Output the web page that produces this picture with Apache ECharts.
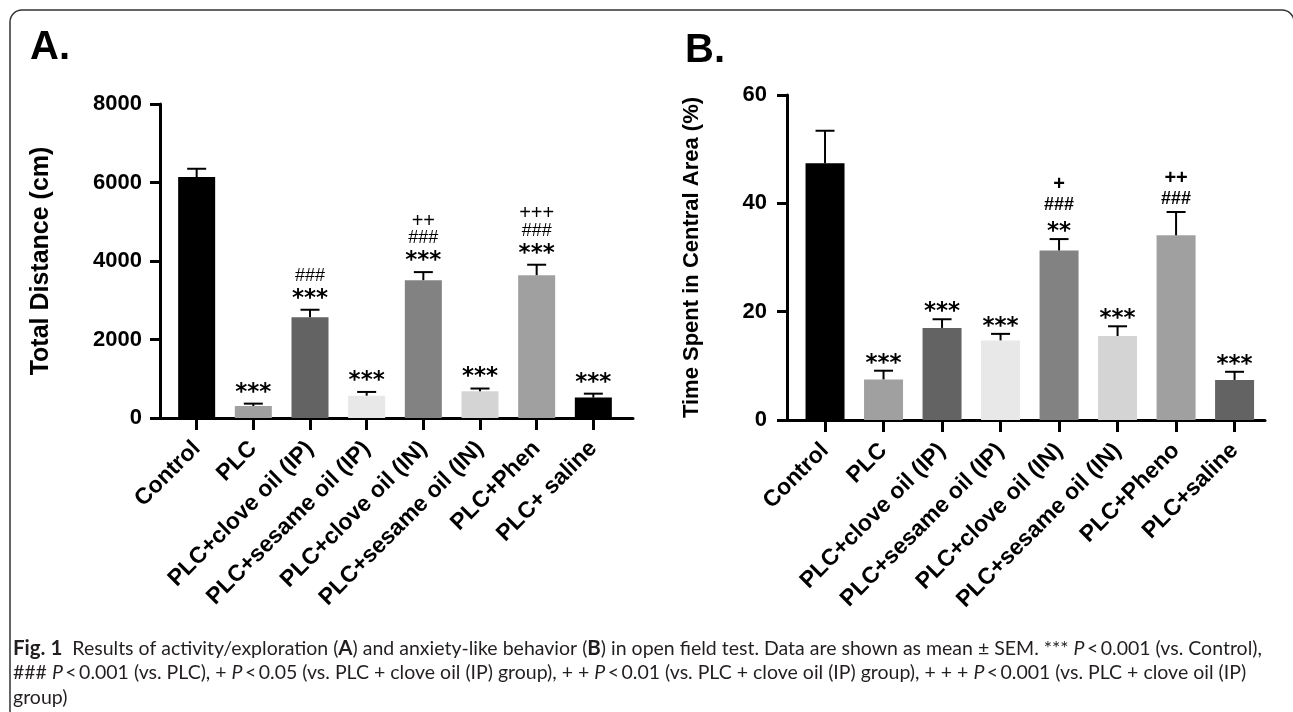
<!DOCTYPE html>
<html>
<head>
<meta charset="utf-8">
<script src="https://cdn.jsdelivr.net/npm/echarts@6/dist/echarts.min.js"></script>
<style>
  html, body { margin: 0; padding: 0; background: #fff; }
  #chart { width: 1293px; height: 712px; }
</style>
</head>
<body>
<div id="chart"></div>
<script>
// ---- Panel A: total distance travelled (cm), mean and SEM ----
const categoriesA = ['Control', 'PLC', 'PLC+clove oil (IP)', 'PLC+sesame oil (IP)',
  'PLC+clove oil (IN)', 'PLC+sesame oil (IN)', 'PLC+Phen', 'PLC+ saline'];
const meanA = [6140, 306, 2568, 569, 3512, 681, 3640, 520];
const semA = [210, 60, 190, 95, 205, 70, 265, 100];
const marksA = [[], ['***'], ['***', '###'], ['***'], ['***', '###', '++'], ['***'], ['***', '###', '+++'], ['***']];
const ticksA = [0, 2000, 4000, 6000, 8000];

// ---- Panel B: time spent in central area (%), mean and SEM ----
const categoriesB = ['Control', 'PLC', 'PLC+clove oil (IP)', 'PLC+sesame oil (IP)',
  'PLC+clove oil (IN)', 'PLC+sesame oil (IN)', 'PLC+Pheno', 'PLC+saline'];
const meanB = [47.4, 7.5, 17.0, 14.7, 31.3, 15.5, 34.1, 7.4];
const semB = [6.0, 1.6, 1.6, 1.2, 2.1, 1.8, 4.3, 1.5];
const marksB = [[], ['***'], ['***'], ['***'], ['**', '###', '+'], ['***'], ['###', '++'], ['***']];
const ticksB = [0, 20, 40, 60];

// bar fills per group
const fillA = ['#000000', '#a0a0a0', '#636363', '#e8e8e8', '#828282', '#d4d4d4', '#a0a0a0', '#000000'];
const fillB = ['#000000', '#a0a0a0', '#636363', '#e8e8e8', '#828282', '#d4d4d4', '#a0a0a0', '#636363'];

// caption lines ({b|..} bold, {i|..} italic)
const P = '{i|P}';
const captionLines = [
  '{b|Fig. 1}  Results of activity/exploration ({b|A}) and anxiety-like behavior ({b|B}) in open field test. Data are shown as mean \u00b1 SEM. *** ' + P + '\u2009<\u20090.001 (vs. Control),',
  '### ' + P + '\u2009<\u20090.001 (vs. PLC), + ' + P + '\u2009<\u20090.05 (vs. PLC + clove oil (IP) group), + + ' + P + '\u2009<\u20090.01 (vs. PLC + clove oil (IP) group), + + + ' + P + '\u2009<\u20090.001 (vs. PLC + clove oil (IP)',
  'group)'
];

const chart = echarts.init(document.getElementById('chart'), null, { renderer: 'canvas' });
const FONT = "'Liberation Sans', Arial, Helvetica, sans-serif";
const CAP_FONT = "Lato, 'Liberation Sans', sans-serif";
const idx = categoriesA.map((_, i) => i);

// caption size chosen so the first line spans the figure width
const measureCtx = document.createElement('canvas').getContext('2d');
const plainFirst = captionLines[0].replace(/\{[bi]\|([^}]*)\}/g, '$1');
measureCtx.font = '100px ' + CAP_FONT;
const capSize = Math.min(20, 1246 / measureCtx.measureText(plainFirst).width * 100);

function xAxisFor(gridIndex, cats, min, max) {
  return {
    type: 'value', gridIndex, min, max,
    axisLine: { show: true, onZero: false, lineStyle: { color: '#000', width: 3 } },
    axisTick: { show: true, customValues: idx, length: 12, lineStyle: { color: '#000', width: 3 } },
    axisLabel: {
      customValues: idx, rotate: 45, margin: 27,
      formatter: v => cats[Math.round(v)] || '',
      color: '#000', fontFamily: FONT, fontWeight: 'bold', fontSize: 23
    },
    splitLine: { show: false }
  };
}
function yAxisFor(gridIndex, ticks, name, nameGap, margin, nameSize) {
  return {
    type: 'value', gridIndex,
    min: ticks[0], max: ticks[ticks.length - 1], interval: ticks[1] - ticks[0],
    name, nameLocation: 'middle', nameGap,
    nameTextStyle: { color: '#000', fontFamily: FONT, fontWeight: 'bold', fontSize: nameSize },
    axisLine: { show: true, onZero: false, lineStyle: { color: '#000', width: 3 } },
    axisTick: { show: true, length: 10, lineStyle: { color: '#000', width: 3 } },
    axisLabel: { color: '#000', fontFamily: FONT, fontWeight: 'bold', fontSize: 22, margin,
      formatter: v => String(v) },
    splitLine: { show: false }
  };
}
function barSeries(k, means, fills, width) {
  return {
    type: 'bar', xAxisIndex: k, yAxisIndex: k, barWidth: width,
    data: means.map((m, i) => [i, m]),
    itemStyle: { color: p => fills[p.dataIndex] },
    silent: true, z: 2
  };
}
function errSeries(k, means, sems) {
  return {
    type: 'custom', xAxisIndex: k, yAxisIndex: k, z: 3, silent: true,
    data: means.map((m, i) => [i, m, sems[i]]),
    renderItem: (params, api) => {
      const x = api.value(0), m = api.value(1), e = api.value(2);
      const base = api.coord([x, m]).slice();
      const top = api.coord([x, m + e]).slice();
      const st = { stroke: '#000', lineWidth: 2 };
      return {
        type: 'group', children: [
          { type: 'line', shape: { x1: top[0], y1: base[1], x2: top[0], y2: top[1] }, style: st },
          { type: 'line', shape: { x1: top[0] - 9.5, y1: top[1], x2: top[0] + 9.5, y2: top[1] }, style: st }
        ]
      };
    }
  };
}
function markSeries(k, means, sems, marks, first, step, boldSigns) {
  return {
    type: 'custom', xAxisIndex: k, yAxisIndex: k, z: 4, silent: true,
    data: means.map((m, i) => [i, m + sems[i]]),
    renderItem: (params, api) => {
      const p = api.coord([api.value(0), api.value(1)]);
      const list = marks[params.dataIndex];
      const children = list.map((s, j) => {
        const star = s[0] === '*';
        return {
          type: 'text',
          x: p[0], y: p[1] - first - j * step + (star ? 6 : 0),
          style: {
            text: s, align: 'center', verticalAlign: 'middle', fill: '#000',
            font: star ? "bold 23px 'DejaVu Sans', sans-serif"
              : (boldSigns ? 'bold ' : '') + (s[0] === '#' ? '18px ' : '20px ') + FONT
          }
        };
      });
      return { type: 'group', children };
    }
  };
}

const capRich = {
  b: { fontWeight: 'bold', fontFamily: CAP_FONT, fontSize: capSize + 1, fill: '#231f20' },
  i: { fontStyle: 'italic', fontFamily: CAP_FONT, fontSize: capSize, fill: '#231f20' }
};

const option = {
  animation: false,
  backgroundColor: '#fff',
  grid: [
    { left: 160, right: 660, top: 104, bottom: 294 },
    { left: 787, right: 28, top: 95, bottom: 292 }
  ],
  xAxis: [xAxisFor(0, categoriesA, -0.647, 7.7), xAxisFor(1, categoriesB, -0.65, 7.52)],
  yAxis: [
    yAxisFor(0, ticksA, 'Total Distance (cm)', 106, 18, 25),
    yAxisFor(1, ticksB, 'Time Spent in Central Area (%)', 84, 20, 22)
  ],
  series: [
    barSeries(0, meanA, fillA, 37), errSeries(0, meanA, semA), markSeries(0, meanA, semA, marksA, 17, 17, false),
    barSeries(1, meanB, fillB, 39), errSeries(1, meanB, semB), markSeries(1, meanB, semB, marksB, 13, 21, true)
  ],
  graphic: [
    { type: 'rect', shape: { x: 10, y: 10, width: 1284, height: 800, r: 12 },
      style: { fill: 'none', stroke: '#333', lineWidth: 1.5 }, silent: true },
    { type: 'text', left: 30, top: 28, style: { text: 'A.', font: "bold 40px " + FONT, fill: '#000' } },
    { type: 'text', left: 685, top: 31, style: { text: 'B.', font: "bold 40px " + FONT, fill: '#000' } },
    ...captionLines.map((t, j) => ({
      type: 'text', left: 13, top: 638 + j * 25,
      style: { text: t, fill: '#231f20', font: capSize + 'px ' + CAP_FONT, rich: capRich }
    }))
  ]
};
chart.setOption(option);
</script>
</body>
</html>
